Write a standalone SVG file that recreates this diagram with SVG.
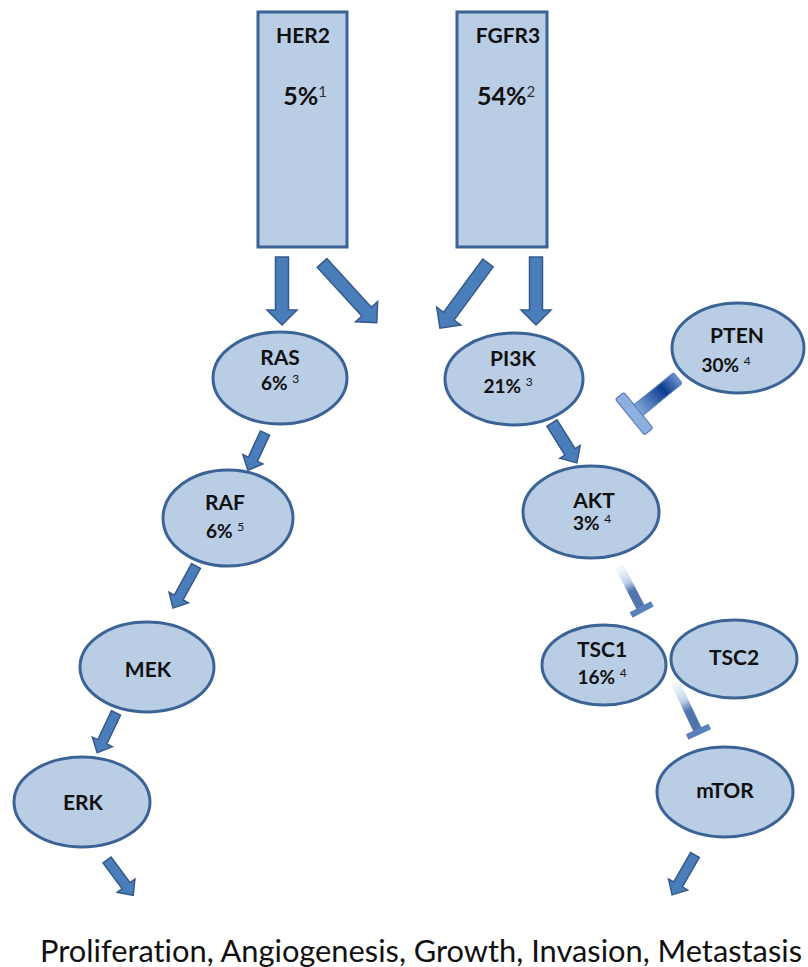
<svg xmlns="http://www.w3.org/2000/svg" width="808" height="967" viewBox="0 0 808 967">
<defs>
<style>
.box{fill:#B9CDE5;stroke:#3B6395;stroke-width:3}
.node{fill:#B9CDE5;stroke:#3B6395;stroke-width:3}
.arr{fill:#4A7EBB;stroke:#36598A;stroke-width:1.5;stroke-linejoin:miter}
text{font-family:Lato,"Open Sans","Liberation Sans",sans-serif;fill:#111;font-variant-ligatures:none;font-feature-settings:"liga" 0,"dlig" 0}
.nm{font-size:21px;font-weight:bold;text-anchor:middle}
.pc{font-size:19px;font-weight:bold;text-anchor:middle}
.sup{font-size:12px;font-weight:normal}
.big{font-size:21px;font-weight:bold;text-anchor:middle}
.bigp{font-size:25px;font-weight:bold;text-anchor:middle}
.bsup{font-size:15px;font-weight:normal;fill:#333}
</style>
<linearGradient id="gPten" x1="0" y1="0" x2="1" y2="0">
<stop offset="0" stop-color="#6F95CC"/>
<stop offset="0.35" stop-color="#0D3C8F"/>
<stop offset="1" stop-color="#8AACDD"/>
</linearGradient>
<linearGradient id="gFade" x1="0" y1="0" x2="1" y2="0">
<stop offset="0" stop-color="#DCE6F4" stop-opacity="0.2"/>
<stop offset="0.4" stop-color="#BCCFEA"/>
<stop offset="0.6" stop-color="#4F74AE"/>
<stop offset="1" stop-color="#4F74AE"/>
</linearGradient>
</defs>

<g id="connectors">
<path class="arr" transform="translate(282,257) rotate(90)" d="M0,-6.5 H53 V-15 L68,0 L53,15 V6.5 H0 Z"/>
<path class="arr" transform="translate(322,263) rotate(47.5)" d="M0,-6.5 H66 V-15 L81,0 L66,15 V6.5 H0 Z"/>
<path class="arr" transform="translate(488,263) rotate(126.4)" d="M0,-6.5 H66 V-15 L81,0 L66,15 V6.5 H0 Z"/>
<path class="arr" transform="translate(536,257) rotate(90)" d="M0,-6.5 H53 V-15 L68,0 L53,15 V6.5 H0 Z"/>
<path class="arr" transform="translate(265,433) rotate(114.7)" d="M0,-5 H29 V-11 L41,0 L29,11 V5 H0 Z"/>
<path class="arr" transform="translate(552,423) rotate(58)" d="M0,-6 H34 V-12 L47,0 L34,12 V6 H0 Z"/>
<path class="arr" transform="translate(196,566) rotate(118.7)" d="M0,-5 H36 V-11 L48,0 L36,11 V5 H0 Z"/>
<path class="arr" transform="translate(116,713) rotate(115.4)" d="M0,-5 H32 V-11 L44,0 L32,11 V5 H0 Z"/>
<path class="arr" transform="translate(107,860) rotate(53.4)" d="M0,-5 H32 V-11 L44,0 L32,11 V5 H0 Z"/>
<path class="arr" transform="translate(695,855) rotate(119.9)" d="M0,-5 H34 V-11 L46,0 L34,11 V5 H0 Z"/>
<g transform="translate(678,378) rotate(140.9)">
<rect x="0" y="-7" width="53" height="14" rx="2" fill="url(#gPten)" stroke="#5A80BC" stroke-width="1"/>
<rect x="51" y="-23" width="11" height="46" rx="2" fill="#8DB0E0" stroke="#5A80BC" stroke-width="1.2"/>
</g>
<g transform="translate(619,566) rotate(62.4)">
<rect x="0" y="-4.5" width="47" height="9" fill="url(#gFade)"/>
<rect x="46" y="-12" width="6" height="24" fill="#5A80BC"/>
</g>
<g transform="translate(675,682) rotate(64.8)">
<rect x="0" y="-4.5" width="53" height="9" fill="url(#gFade)"/>
<rect x="52" y="-12.5" width="6" height="25" fill="#5A80BC"/>
</g>
</g>

<g id="HER2">
<rect class="box" x="258" y="12" width="89" height="235"/>
<text class="big" x="303" y="43">HER2</text>
<text class="bigp" x="305" y="105">5%<tspan class="bsup" dy="-8">1</tspan></text>
</g>
<g id="FGFR3">
<rect class="box" x="457" y="12" width="90" height="235"/>
<text class="big" x="508" y="43">FGFR3</text>
<text class="bigp" x="506" y="105">54%<tspan class="bsup" dy="-8">2</tspan></text>
</g>

<g id="RAS">
<ellipse class="node" cx="280" cy="378" rx="67" ry="46"/>
<text class="nm" x="280" y="365">RAS</text>
<text class="pc" x="280" y="390">6% <tspan class="sup" dy="-7">3</tspan></text>
</g>
<g id="PI3K">
<ellipse class="node" cx="514" cy="379" rx="69" ry="46"/>
<text class="nm" x="513" y="366">PI3K</text>
<text class="pc" x="508" y="393">21% <tspan class="sup" dy="-7">3</tspan></text>
</g>
<g id="PTEN">
<ellipse class="node" cx="738" cy="348" rx="66" ry="45"/>
<text class="nm" x="737" y="343">PTEN</text>
<text class="pc" x="726" y="372">30% <tspan class="sup" dy="-7">4</tspan></text>
</g>
<g id="RAF">
<ellipse class="node" cx="228" cy="518" rx="65" ry="48"/>
<text class="nm" x="225" y="510">RAF</text>
<text class="pc" x="225" y="538">6% <tspan class="sup" dy="-7">5</tspan></text>
</g>
<g id="AKT">
<ellipse class="node" cx="591" cy="512" rx="68" ry="46"/>
<text class="nm" x="594" y="508">AKT</text>
<text class="pc" x="592" y="530">3% <tspan class="sup" dy="-7">4</tspan></text>
</g>
<g id="MEK">
<ellipse class="node" cx="147" cy="667" rx="67" ry="45"/>
<text class="nm" x="148" y="677">MEK</text>
</g>
<g id="ERK">
<ellipse class="node" cx="82" cy="802" rx="68" ry="45"/>
<text class="nm" x="83" y="810">ERK</text>
</g>
<g id="TSC1">
<ellipse class="node" cx="604" cy="665" rx="62" ry="40"/>
<text class="nm" x="602" y="657">TSC1</text>
<text class="pc" x="602" y="684">16% <tspan class="sup" dy="-7">4</tspan></text>
</g>
<g id="TSC2">
<ellipse class="node" cx="734" cy="659" rx="63" ry="39"/>
<text class="nm" x="734" y="665">TSC2</text>
</g>
<g id="mTOR">
<ellipse class="node" cx="725" cy="792" rx="68" ry="45"/>
<text class="nm" x="725" y="798">mTOR</text>
</g>

<text id="outcome" x="40" y="962" font-size="30" textLength="762" lengthAdjust="spacingAndGlyphs">Proliferation, Angiogenesis, Growth, Invasion, Metastasis</text>
</svg>
